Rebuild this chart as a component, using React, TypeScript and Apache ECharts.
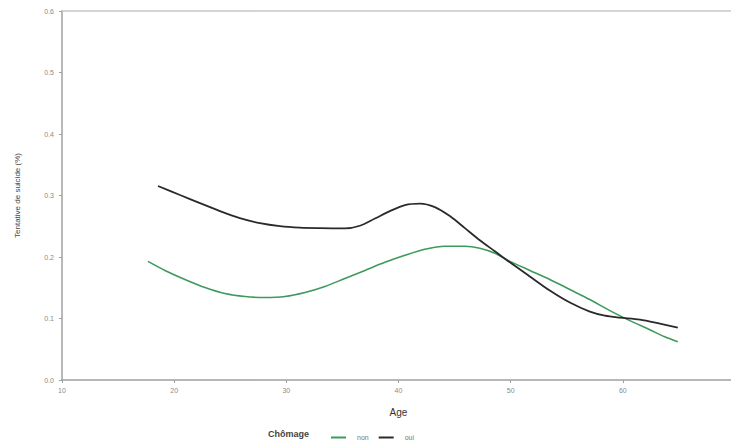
import React, { useEffect, useRef } from "react";
import * as echarts from "echarts";

const ageOui = [18.56, 20.52, 22.3, 24.08, 25.86, 27.65, 29.43, 31.21, 32.99, 35.22, 36.56, 37.9, 39.23, 40.57, 41.91, 43.24, 44.58, 45.92, 47.25, 48.59, 49.93, 51.71, 53.49, 55.28, 57.06, 58.4, 59.73, 61.52, 63.3, 64.9];
const valOui = [0.3155, 0.3008, 0.2877, 0.2746, 0.2632, 0.255, 0.2501, 0.2477, 0.2469, 0.2465, 0.2508, 0.2625, 0.2746, 0.2845, 0.2869, 0.2812, 0.2665, 0.2469, 0.2272, 0.2093, 0.1913, 0.1684, 0.1455, 0.1259, 0.1112, 0.1046, 0.1014, 0.0981, 0.0915, 0.085];
const ageNon = [17.66, 19.18, 20.96, 22.75, 24.53, 26.31, 28.09, 29.88, 31.66, 33.44, 35.22, 37.01, 38.79, 40.57, 42.35, 44.14, 45.92, 47.25, 48.59, 49.93, 51.71, 53.49, 55.28, 57.06, 58.84, 60.62, 62.4, 63.74, 64.9];
const valNon = [0.1929, 0.1782, 0.1635, 0.1504, 0.1406, 0.1357, 0.1341, 0.1357, 0.1422, 0.152, 0.1651, 0.1782, 0.1913, 0.2027, 0.2125, 0.2174, 0.2174, 0.2142, 0.206, 0.1929, 0.1782, 0.1635, 0.1471, 0.1308, 0.1128, 0.0965, 0.0817, 0.0703, 0.0621];
const seriesNames = ["non", "oui"];
const legendTitle = "Chômage";
const xName = "Age";
const yName = "Tentative de suicide (%)";

export default function App() {
  const ref = useRef<HTMLDivElement>(null);
  useEffect(() => {
    const chart = echarts.init(ref.current!, null, { renderer: "svg" });
    const axisColor = "#a0a0a0";
    const font = "Liberation Sans, Arial, sans-serif";
    const labelStyle = { color: "#8a8a8a", fontSize: 7, fontFamily: font };
    chart.setOption({
      animation: false,
      backgroundColor: "#fff",
      grid: { left: 62, right: 15, top: 11, bottom: 65, containLabel: false },
      xAxis: [
        {
          type: "value",
          min: 10,
          max: 70,
          interval: 10,
          name: xName,
          nameLocation: "middle",
          nameGap: 27,
          nameTextStyle: { color: "#333", fontSize: 10, fontFamily: font },
          axisLine: { lineStyle: { color: axisColor, width: 1.5 } },
          axisTick: { show: true, length: 3, lineStyle: { color: axisColor } },
          axisLabel: { ...labelStyle, margin: 7 },
          splitLine: { show: false },
        },
        {
          type: "value",
          position: "top",
          min: 10,
          max: 70,
          axisLine: { show: true, lineStyle: { color: "#c8c8c8", width: 1.5 } },
          axisTick: { show: false },
          axisLabel: { show: false },
          splitLine: { show: false },
        },
      ],
      yAxis: {
        type: "value",
        min: 0,
        max: 0.6,
        interval: 0.1,
        name: yName,
        nameLocation: "middle",
        nameGap: 41,
        nameTextStyle: { color: "#444", fontSize: 8, fontFamily: font },
        axisLine: { show: true, lineStyle: { color: axisColor, width: 1.5 } },
        axisTick: { show: true, length: 3, lineStyle: { color: axisColor } },
        axisLabel: { ...labelStyle, margin: 8, formatter: (v: number) => v.toFixed(1) },
        splitLine: { show: false },
      },
      legend: {
        left: 326,
        top: 429,
        itemWidth: 15,
        itemHeight: 2,
        itemGap: 10,
        icon: "rect",
        textStyle: { color: "#777", fontSize: 7, fontFamily: font, padding: [0, 0, 0, 6] },
        data: seriesNames,
      },
      graphic: [
        {
          type: "text",
          left: 268,
          top: 429,
          style: { text: legendTitle, fill: "#444", fontSize: 9, fontWeight: "bold", fontFamily: font },
        },
      ],
      series: [
        {
          name: seriesNames[0],
          type: "line",
          smooth: 0.3,
          showSymbol: false,
          color: "#3d9a5c",
          lineStyle: { width: 1.6, color: "#3d9a5c" },
          data: ageNon.map((a, i) => [a, valNon[i]]),
        },
        {
          name: seriesNames[1],
          type: "line",
          smooth: 0.3,
          showSymbol: false,
          color: "#2a2a2a",
          lineStyle: { width: 1.8, color: "#2a2a2a" },
          data: ageOui.map((a, i) => [a, valOui[i]]),
        },
      ],
    });
    return () => chart.dispose();
  }, []);
  return (
    <div style={{ position: "absolute", left: 0, top: 0, width: 731, height: 445, overflow: "hidden" }}>
      <div ref={ref} style={{ width: 750, height: 445 }} />
    </div>
  );
}
